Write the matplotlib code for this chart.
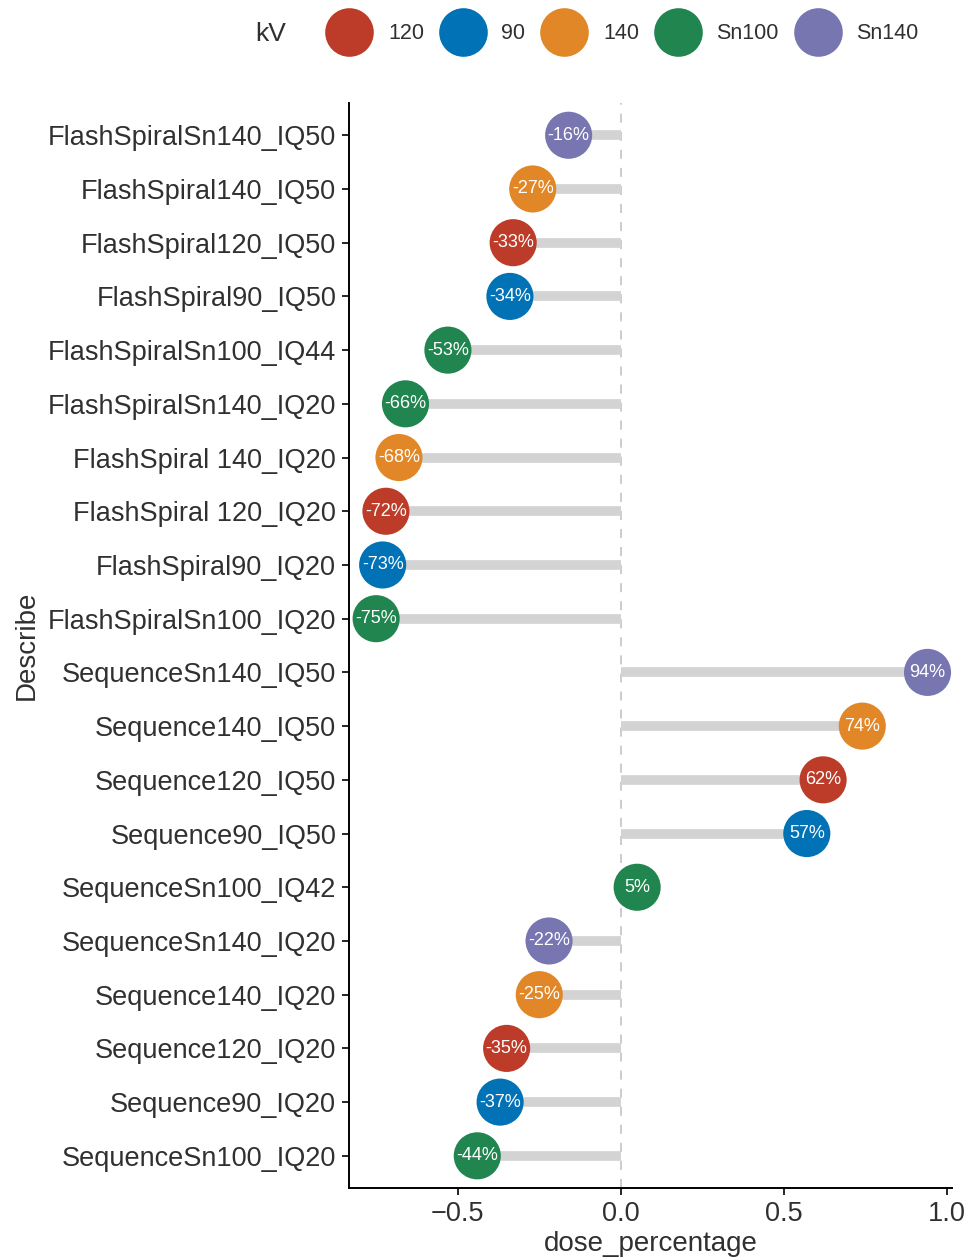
import matplotlib.pyplot as plt
from matplotlib.lines import Line2D

plt.rcParams['font.family'] = ['Liberation Sans', 'DejaVu Sans']

# rows from top to bottom
describe = [
    "FlashSpiralSn140_IQ50", "FlashSpiral140_IQ50", "FlashSpiral120_IQ50",
    "FlashSpiral90_IQ50", "FlashSpiralSn100_IQ44", "FlashSpiralSn140_IQ20",
    "FlashSpiral 140_IQ20", "FlashSpiral 120_IQ20", "FlashSpiral90_IQ20",
    "FlashSpiralSn100_IQ20", "SequenceSn140_IQ50", "Sequence140_IQ50",
    "Sequence120_IQ50", "Sequence90_IQ50", "SequenceSn100_IQ42",
    "SequenceSn140_IQ20", "Sequence140_IQ20", "Sequence120_IQ20",
    "Sequence90_IQ20", "SequenceSn100_IQ20",
]
dose_percentage = [
    -0.16, -0.27, -0.33, -0.34, -0.53, -0.66, -0.68, -0.72, -0.73, -0.75,
    0.94, 0.74, 0.62, 0.57, 0.05, -0.22, -0.25, -0.35, -0.37, -0.44,
]
kv = [
    "Sn140", "140", "120", "90", "Sn100", "Sn100", "140", "120", "90", "Sn100",
    "Sn140", "140", "120", "90", "Sn100", "Sn140", "140", "120", "90", "Sn100",
]

kv_levels = ["120", "90", "140", "Sn100", "Sn140"]
kv_colors = ["#BC3C29", "#0072B5", "#E18727", "#20854E", "#7876B1"]
color_of = dict(zip(kv_levels, kv_colors))

fig = plt.figure(figsize=(9.66, 12.58), dpi=100)
ax = fig.add_axes([0.361, 0.0556, 0.6245, 0.8625])

n = len(describe)
ypos = list(range(n - 1, -1, -1))

ax.axvline(0, color="#c8c8c8", lw=1.3, ls=(0, (5, 5)), zorder=1)
ax.hlines(ypos, 0, dose_percentage, color="#d3d3d3", lw=7, zorder=2)
ax.scatter(dose_percentage, ypos, s=1150, c=[color_of[k] for k in kv],
           edgecolors="none", zorder=3)
for x, y in zip(dose_percentage, ypos):
    ax.text(x, y, f"{round(x * 100):d}%", color="white", fontsize=13,
            ha="center", va="center", zorder=4)

ax.set_xlim(-0.834, 1.015)
ax.set_ylim(-0.6, n - 0.4)
ax.set_yticks(ypos)
ax.set_yticklabels(describe)
ax.set_xticks([-0.5, 0.0, 0.5, 1.0])
ax.set_xticklabels(["\u22120.5", "0.0", "0.5", "1.0"])
ax.tick_params(labelsize=19.5, labelcolor="#303030", length=5, width=1.2, pad=4)
for side in ["top", "right"]:
    ax.spines[side].set_visible(False)
for side in ["left", "bottom"]:
    ax.spines[side].set_linewidth(1.4)
ax.set_xlabel("dose_percentage", fontsize=20, color="#303030", labelpad=3)
ax.set_ylabel("Describe", fontsize=20, color="#303030", labelpad=6)

handles = [Line2D([], [], marker="o", ls="", markersize=35,
                  markerfacecolor=c, markeredgecolor="none") for c in kv_colors]
fig.legend(handles, kv_levels, loc="center", bbox_to_anchor=(0.645, 0.973),
           ncol=5, frameon=False, fontsize=15.5, handletextpad=0.8,
           columnspacing=0.8, labelcolor="#303030")
fig.text(0.28, 0.973, "kV", fontsize=19, color="#303030", ha="center", va="center")

fig.savefig("out.png", dpi=100)
